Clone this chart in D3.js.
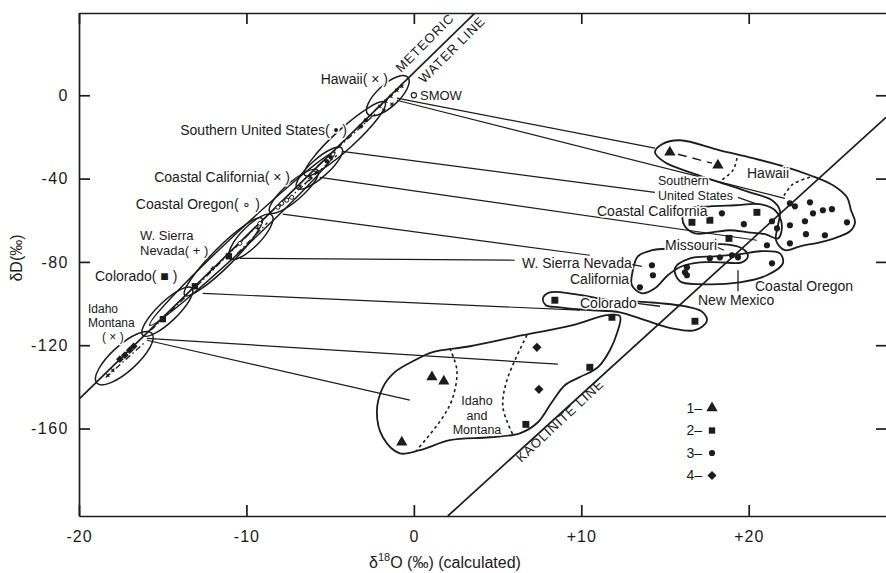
<!DOCTYPE html>
<html><head><meta charset="utf-8">
<script src="https://cdn.jsdelivr.net/npm/d3@7"></script>
<style>
body{margin:0;background:#fff;}
svg{display:block;}
text{font-family:"Liberation Sans",Arial,sans-serif;fill:#1a1a1a;}
</style></head><body>
<svg id="chart" width="886" height="573"></svg>
<script>
// ---------- axis ticks ----------
const xTicks=[-20,-10,0,10,20];
const xTickLabels=["-20","-10","0","+10","+20"];
const yTicks=[0,-40,-80,-120,-160];
const yTickLabels=["0","-40","-80","-120","-160"];

// ---------- reference lines (δ18O, δD) ----------
const meteoricLine=[[-19.95,-145.5],[3.64,39.4]];
const kaoliniteLine=[[2.03,-202],[28.2,-10.6]];
const smow=[0,0];

// ---------- water groups on the meteoric line (ellipse ends) ----------
const waterGroups=["Outer","Hawaii","Southern United States","Coastal California","Coastal Oregon","W. Sierra Nevada","Colorado","Idaho inner","Idaho Montana"];
const waterFrom=[[-15.77,-110.4],[-2.75,-9.1],[-6.51,-38.4],[-6.99,-44.6],[-8.60,-56.2],[-10.99,-78.3],[-13.68,-96.0],[-16.19,-115.2],[-18.94,-138.2]];
const waterTo=[[-4.72,-27.4],[-0.36,8.6],[-1.73,-3.4],[-4.30,-25.4],[-5.74,-36.0],[-8.48,-57.6],[-9.08,-59.1],[-13.26,-92.6],[-15.65,-114.3]];

// small water symbols on the meteoric line
const hawaiiWater=[[-2.03,-5.3],[-1.67,-2.9],[-1.37,-0.5],[-1.02,2.4],[-0.72,4.3],[-1.31,-4.3],[-1.79,-7.2]];
const southernWater=[[-2.87,-12.0],[-3.17,-14.9],[-4.96,-29.8],[-5.20,-31.7]];
const coastalCalWater=[[-6.21,-39.4],[-5.85,-37.0],[-6.81,-43.7]];
const coastalOregonWater=[[-7.89,-51.9],[-7.59,-50.4],[-7.29,-49.0],[-8.12,-53.8],[-9.20,-61.5],[-10.39,-71.1]];
const sierraWater=[[-9.32,-63.9],[-12.01,-83.1]];
const coloradoWater=[[-11.05,-77.3],[-13.08,-91.7],[-14.99,-107.5]];
const idahoWaterFilled=[[-16.97,-122.4],[-17.26,-124.8],[-16.73,-120.5],[-17.56,-126.7]];
const idahoWaterSmall=[[-17.98,-132.0],[-18.28,-134.4]];

// ---------- tie lines from waters to clays ----------
const tieFrom=[[-1.02,-1.4],[-1.02,-2.4],[-4.30,-26.9],[-5.62,-39.4],[-7.83,-57.1],[-10.39,-78.3],[-12.61,-95.1],[-15.95,-116.7],[-15.95,-117.6]];
const tieTo=[[14.40,-25.4],[22.16,-49.5],[14.40,-46.6],[20.49,-69.6],[10.51,-76.8],[6.03,-79.2],[9.92,-103.2],[8.60,-129.1],[-0.24,-146.4]];

// ---------- clay field outlines ----------
const fieldHawaii=[[14.40,-27.4],[14.82,-23.5],[15.89,-21.6],[18.28,-26.4],[20.25,-30.2],[22.28,-34.6],[23.66,-38.4],[25.03,-43.2],[25.87,-49.0],[26.11,-55.2],[26.35,-61.0],[26.05,-65.3],[25.27,-68.2],[24.25,-70.6],[23.06,-72.5],[22.16,-74.4],[21.63,-69.6],[21.75,-62.4],[21.86,-55.2],[21.39,-50.4],[20.07,-46.6],[18.28,-41.8],[16.49,-37.0],[14.99,-32.2]];
const fieldCoastalCal=[[16.07,-57.6],[16.49,-54.3],[17.68,-53.3],[19.18,-52.8],[20.67,-52.3],[21.57,-55.2],[21.98,-62.4],[21.75,-68.7],[20.97,-66.7],[19.95,-65.8],[18.88,-64.8],[17.80,-65.8],[16.79,-66.3],[16.19,-62.9]];
const fieldSierra=[[13.08,-84.0],[13.38,-77.3],[14.22,-74.4],[15.59,-73.5],[17.09,-72.5],[18.40,-71.5],[19.59,-73.5],[19.95,-77.3],[19.59,-80.2],[18.28,-80.2],[17.09,-80.2],[16.01,-82.1],[15.17,-86.4],[14.40,-92.7],[13.62,-95.1],[13.02,-91.2]];
const fieldOregon=[[15.59,-83.1],[15.89,-89.3],[17.09,-90.7],[19.48,-89.8],[21.09,-86.4],[22.04,-80.7],[21.86,-75.9],[20.67,-74.9],[19.48,-76.3],[17.98,-77.3],[16.49,-78.3]];
const fieldColorado=[[7.71,-97.5],[8.12,-94.6],[9.62,-95.5],[11.71,-98.4],[14.10,-99.4],[16.49,-101.8],[17.26,-104.2],[17.50,-108.5],[16.79,-112.8],[15.41,-111.9],[13.80,-108.0],[12.31,-104.2],[10.51,-103.2],[8.72,-101.8],[7.89,-100.8]];
const fieldIdaho=[[-1.85,-140.2],[-1.14,-132.9],[0.06,-127.2],[1.08,-123.4],[3.35,-120.5],[6.51,-115.2],[9.50,-110.4],[11.53,-105.6],[12.31,-106.1],[12.13,-114.3],[11.71,-122.4],[10.99,-130.6],[9.92,-135.3],[9.02,-139.2],[8.24,-147.4],[7.41,-157.0],[6.33,-162.3],[4.54,-164.2],[2.15,-165.6],[0.36,-170.4],[-0.84,-171.9],[-1.85,-164.2],[-2.21,-152.2]];

// dotted field dividers
const dashIdaho1=[[2.15,-121.5],[2.57,-132.0],[2.33,-145.0],[1.73,-154.6],[0.18,-170.4]];
const dashIdaho2=[[6.75,-115.2],[5.56,-136.8],[5.32,-149.8],[5.91,-162.8]];
const dashHawaii1=[[19.30,-30.2],[19.06,-36.0],[18.28,-41.3]];
const dashHawaii2=[[23.66,-39.4],[22.64,-42.7],[22.04,-49.0]];
const dashHawaii3=[[15.77,-28.3],[17.80,-32.6]];

// label leaders
const leaderFrom=[[19.36,-49.0],[17.86,-72.0],[12.66,-80.7],[19.36,-84.0],[13.32,-99.9]];
const leaderTo=[[20.49,-52.3],[18.52,-74.4],[13.62,-82.1],[19.36,-94.1],[14.70,-101.3]];

// ---------- clay samples (1 ▲, 2 ■, 3 ●, 4 ◆) ----------
const clay1=[[15.29,-27.4],[18.16,-33.6],[1.08,-135.3],[1.79,-137.3],[-0.72,-166.6]];
const clay2=[[20.49,-56.2],[16.61,-61.0],[17.68,-60.0],[18.82,-68.7],[8.42,-98.4],[11.83,-106.6],[16.79,-108.5],[10.51,-130.6],[6.69,-158.0]];
const clay3=[[22.46,-51.9],[22.76,-53.3],[23.66,-51.4],[23.84,-56.7],[24.43,-55.2],[24.97,-54.7],[25.87,-61.0],[23.36,-60.5],[23.42,-66.7],[24.55,-67.2],[22.46,-62.4],[22.46,-71.1],[21.69,-63.9],[21.39,-60.5],[19.71,-61.9],[18.40,-56.7],[21.09,-72.0],[21.39,-80.7],[19.36,-77.8],[19.00,-76.8],[18.28,-77.8],[17.68,-78.3],[16.31,-82.6],[16.19,-85.0],[16.31,-86.4],[14.22,-81.6],[14.28,-86.4],[13.50,-92.2]];
const clay4=[[7.35,-121.0],[7.47,-141.2]];
const legendKeys=["1–","2–","3–","4–"];

// ================= drawing =================
const svg=d3.select("#chart");
const x=d3.scaleLinear().domain([-20,28.2]).range([79,886]);
const y=d3.scaleLinear().domain([-202,39.5]).range([516,13]);
const ink="#1c1c1c";

const defs=svg.append("defs");
defs.append("clipPath").attr("id","plot").append("rect").attr("x",79).attr("y",13).attr("width",808).attr("height",503);
const g=svg.append("g").attr("clip-path","url(#plot)");

const line=d3.line().x(d=>x(d[0])).y(d=>y(d[1]));
const closed=d3.line().x(d=>x(d[0])).y(d=>y(d[1])).curve(d3.curveCatmullRomClosed.alpha(0.5));
const smooth=d3.line().x(d=>x(d[0])).y(d=>y(d[1])).curve(d3.curveCatmullRom.alpha(0.5));

// tie lines
tieFrom.forEach((f,i)=>{
  g.append("path").attr("d",line([f,tieTo[i]])).attr("fill","none").attr("stroke",ink).attr("stroke-width",1.2);
});

// reference lines
g.append("path").attr("d",line(meteoricLine)).attr("stroke",ink).attr("stroke-width",1.7).attr("fill","none");
g.append("path").attr("d",line(kaoliniteLine)).attr("stroke",ink).attr("stroke-width",1.7).attr("fill","none");

// water ellipses
const halfW=[8,11,10,9,9,10,10,10,13];
waterFrom.forEach((f,i)=>{
  const x1=x(f[0]),y1=y(f[1]),x2=x(waterTo[i][0]),y2=y(waterTo[i][1]);
  const cx=(x1+x2)/2,cy=(y1+y2)/2,len=Math.hypot(x2-x1,y2-y1),ang=Math.atan2(y2-y1,x2-x1)*180/Math.PI;
  const eg=g.append("g").attr("transform",`translate(${cx},${cy}) rotate(${ang})`);
  eg.append("ellipse").attr("rx",len/2).attr("ry",halfW[i]).attr("fill","none").attr("stroke",ink).attr("stroke-width",1.5);
  if(i>0) eg.append("line").attr("x1",-len*0.36).attr("x2",len*0.36).attr("y1",2).attr("y2",2)
      .attr("stroke",ink).attr("stroke-width",1.3).attr("stroke-dasharray","6,3,1.5,3");
});

// clay field outlines
[fieldHawaii,fieldCoastalCal,fieldSierra,fieldOregon,fieldColorado,fieldIdaho].forEach(f=>{
  g.append("path").attr("d",closed(f)).attr("fill","none").attr("stroke",ink).attr("stroke-width",1.8);
});
[dashIdaho1,dashIdaho2,dashHawaii1,dashHawaii2].forEach(f=>{
  g.append("path").attr("d",smooth(f)).attr("fill","none").attr("stroke",ink).attr("stroke-width",1.6).attr("stroke-dasharray","3,3");
});
g.append("path").attr("d",line(dashHawaii3)).attr("fill","none").attr("stroke",ink).attr("stroke-width",1.4).attr("stroke-dasharray","9,6");
leaderFrom.forEach((f,i)=>{
  g.append("path").attr("d",line([f,leaderTo[i]])).attr("fill","none").attr("stroke",ink).attr("stroke-width",1.3);
});

// symbols
const sym=(type,size)=>d3.symbol().type(type).size(size);
function drawSym(data,type,size,rot){
  g.selectAll(null).data(data).join("path")
    .attr("d",sym(type,size)())
    .attr("transform",d=>`translate(${x(d[0])},${y(d[1])}) rotate(${rot||0})`)
    .attr("fill",ink);
}
drawSym(clay1,d3.symbolTriangle,55);
drawSym(clay2,d3.symbolSquare,48);
drawSym(clay3,d3.symbolCircle,30);
drawSym(clay4,d3.symbolSquare,42,45);

// small water symbols
function cross(data,rot){
  g.selectAll(null).data(data).join("path")
   .attr("d","M-2.2,0H2.2M0,-2.2V2.2")
   .attr("transform",d=>`translate(${x(d[0])},${y(d[1])}) rotate(${rot})`)
   .attr("stroke",ink).attr("stroke-width",1.2);
}
cross(hawaiiWater,45);
cross(coastalCalWater,45);
cross(idahoWaterSmall,45);
cross(sierraWater,0);
g.selectAll(null).data(southernWater).join("circle").attr("cx",d=>x(d[0])).attr("cy",d=>y(d[1])).attr("r",2.3).attr("fill",ink);
g.selectAll(null).data(coastalOregonWater).join("circle").attr("cx",d=>x(d[0])).attr("cy",d=>y(d[1])).attr("r",2).attr("fill","#fff").attr("stroke",ink).attr("stroke-width",1);
drawSym(coloradoWater,d3.symbolSquare,40);
drawSym(idahoWaterFilled,d3.symbolSquare,30,45);

// SMOW
g.append("circle").attr("cx",x(smow[0])).attr("cy",y(smow[1])).attr("r",2.6).attr("fill","#fff").attr("stroke",ink).attr("stroke-width",1.1);

// ---------- axes (ticks inward on all sides) ----------
const axStyle=s=>{s.selectAll("path,line").attr("stroke",ink).attr("stroke-width",1.7);s.selectAll("text").attr("fill",ink).style("font-family",'"Liberation Sans",Arial,sans-serif');};
svg.append("g").attr("transform","translate(0,516)")
  .call(d3.axisBottom(x).tickValues(xTicks).tickSize(-11).tickSizeOuter(0).tickPadding(15).tickFormat((d,i)=>xTickLabels[i]))
  .call(axStyle).selectAll("text").style("font-size","16px").attr("letter-spacing","1px");
svg.append("g").attr("transform","translate(0,13)")
  .call(d3.axisTop(x).tickValues(xTicks).tickSize(-11).tickSizeOuter(0).tickFormat(""))
  .call(axStyle);
svg.append("g").attr("transform","translate(79,0)")
  .call(d3.axisLeft(y).tickValues(yTicks).tickSize(-11).tickSizeOuter(0).tickPadding(10).tickFormat((d,i)=>yTickLabels[i]))
  .call(axStyle).selectAll("text").style("font-size","16px").attr("letter-spacing","1.5px");
svg.append("g").attr("transform","translate(887,0)")
  .call(d3.axisRight(y).tickValues(yTicks).tickSize(-11).tickSizeOuter(0).tickFormat(""))
  .call(axStyle);

// axis titles
svg.append("text").attr("transform","translate(22,258) rotate(-90)").attr("text-anchor","middle")
  .style("font-size","16px").text("δD(‰)");
const xt=svg.append("text").attr("x",445).attr("y",568).attr("text-anchor","middle").style("font-size","16px");
xt.append("tspan").text("δ");
xt.append("tspan").attr("dy",-7).style("font-size","11px").text("18");
xt.append("tspan").attr("dy",7).text("O (‰) (calculated)");

// ---------- annotation text ----------
function label(t,px,py,anchor,size,halo){
  const el=svg.append("text").attr("x",px).attr("y",py).attr("dy","0.35em").attr("text-anchor",anchor||"start")
    .style("font-size",(size||14)+"px").text(t);
  if(halo) el.attr("stroke","#fff").attr("stroke-width",3).attr("paint-order","stroke").attr("stroke-linejoin","round");
  return el;
}
label("Hawaii( × )",388,79,"end",14,true);
label("SMOW",420,95,"start",13,true);
label("Southern United States( • )",347,130,"end",14,true);
label("Coastal California( × )",290,177,"end",14,true);
label("Coastal Oregon( ∘ )",260,204,"end",14,true);
label("W. Sierra",140,235,"start",13,true);
label("Nevada( + )",140,250,"start",13,true);
label("Colorado( ■ )",95,276,"start",14,true);
label("Idaho",88,309,"start",12,true);
label("Montana",88,323,"start",12,true);
label("( × )",102,337,"start",12,true);

label("Hawaii",747,173,"start",14,true);
label("Southern",658,181,"start",12.5,true);
label("United States",658,195.5,"start",12.5,true);
label("Coastal California",597,211,"start",14,true);
label("Missouri",665,245,"start",14,true);
label("W. Sierra Nevada",522,263,"start",14,true);
label("California",570,279,"start",14,true);
label("Colorado",580,303,"start",14,true);
label("New Mexico",698,300,"start",14,true);
label("Coastal Oregon",755,286,"start",14,true);
label("Idaho",477,401,"middle",12.5,true);
label("and",477,415.5,"middle",12.5,true);
label("Montana",477,430,"middle",12.5,true);

// rotated line names
svg.append("text").attr("transform","translate(428,46) rotate(-45)").attr("text-anchor","middle")
  .style("font-size","13px").attr("letter-spacing","1px").text("METEORIC");
svg.append("text").attr("transform","translate(455,53) rotate(-45)").attr("text-anchor","middle")
  .style("font-size","13px").attr("letter-spacing","1px").text("WATER LINE");
svg.append("text").attr("transform","translate(563,424) rotate(-43)").attr("text-anchor","middle")
  .style("font-size","13px").attr("letter-spacing","1px").text("KAOLINITE LINE");

// legend
const legTypes=[d3.symbolTriangle,d3.symbolSquare,d3.symbolCircle,d3.symbolSquare];
const legSizes=[55,40,30,42];
legendKeys.forEach((k,i)=>{
  const ly=408+i*22.5;
  label(k,702,ly,"end",14,false);
  svg.append("path").attr("d",d3.symbol().type(legTypes[i]).size(legSizes[i])())
    .attr("transform",`translate(712,${ly}) rotate(${i===3?45:0})`).attr("fill",ink);
});
</script>
</body></html>
